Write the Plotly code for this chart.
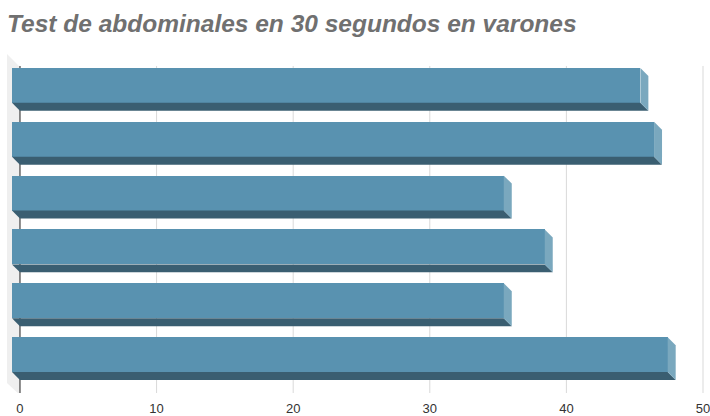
import plotly.graph_objects as go

# Sit-up counts in 30 seconds, one value per participant (top to bottom)
participants = ["1", "2", "3", "4", "5", "6"]
situps = [46, 47, 36, 39, 36, 48]
tick_values = [0, 10, 20, 30, 40, 50]
tick_labels = ["0", "10", "20", "30", "40", "50"]

TITLE = "Test de abdominales en 30 segundos en varones"

# Colours of the three visible faces of each block
FRONT = "rgb(89,146,176)"
BOTTOM = "rgb(58,94,113)"
SIDE = "rgb(122,168,190)"

W, H = 710, 416
# pixel geometry of the plot frame
PX_LEFT, PX_RIGHT = 6, 710
PX_TOP, PX_BOTTOM = 53, 394
PX_X0, PX_PER_UNIT = 20, 13.7          # where 0 sits and scale on the back wall
PX_ROW0, PX_ROW = 85.5, 54             # centre of first row and row pitch
DEPTH_PX = 8                            # extrusion depth in pixels

def px_to_x(px):
    return (px - PX_X0) / PX_PER_UNIT

def px_to_y(py):
    return (py - PX_ROW0) / PX_ROW

dx = DEPTH_PX / PX_PER_UNIT
dy = DEPTH_PX / PX_ROW
bar_w = 35 / PX_ROW

ypos = list(range(len(participants)))

fig = go.Figure()

# bottom and right faces of each block, built from the values
for i, v in zip(ypos, situps):
    yt, yb = i - bar_w / 2, i + bar_w / 2
    fig.add_trace(go.Scatter(
        x=[-dx, v - dx, v, 0, -dx],
        y=[yb, yb, yb + dy, yb + dy, yb],
        mode="lines", fill="toself", fillcolor=BOTTOM,
        line=dict(width=0), hoverinfo="skip", showlegend=False))
    fig.add_trace(go.Scatter(
        x=[v - dx, v, v, v - dx, v - dx],
        y=[yt, yt + dy, yb + dy, yb, yt],
        mode="lines", fill="toself", fillcolor=SIDE,
        line=dict(width=0), hoverinfo="skip", showlegend=False))

# front faces
fig.add_trace(go.Bar(
    y=ypos, x=situps, base=[-dx] * len(situps), orientation="h",
    width=bar_w, marker=dict(color=FRONT, line=dict(width=0)),
    showlegend=False, hovertemplate="%{x}<extra></extra>"))

shapes = []
# left side wall
wall_x = [px_to_x(7), px_to_x(20), px_to_x(20), px_to_x(7)]
wall_y = [px_to_y(54), px_to_y(67), px_to_y(396), px_to_y(384)]
path = "M " + " L ".join(f"{a},{b}" for a, b in zip(wall_x, wall_y)) + " Z"
shapes.append(dict(type="path", path=path, xref="x", yref="y",
                   fillcolor="#efefef", line=dict(width=0), layer="below"))
# gridlines on the back wall
for t in tick_values:
    shapes.append(dict(type="line", xref="x", yref="y", layer="below",
                       x0=t, x1=t, y0=px_to_y(66), y1=px_to_y(395),
                       line=dict(color="#666666" if t == 0 else "#d9d9d9",
                                 width=1.5 if t == 0 else 1)))

fig.update_layout(
    width=W, height=H,
    margin=dict(l=PX_LEFT, r=W - PX_RIGHT, t=PX_TOP, b=H - PX_BOTTOM),
    paper_bgcolor="white", plot_bgcolor="white",
    bargap=0,
    title=dict(text=TITLE, xref="container", yref="container",
               x=7 / W, xanchor="left", y=1 - 23 / H, yanchor="middle",
               font=dict(family="Liberation Sans", size=24.5, color="#707070",
                         weight="bold", style="italic")),
    xaxis=dict(range=[px_to_x(PX_LEFT), px_to_x(PX_RIGHT)],
               tickvals=tick_values, ticktext=tick_labels,
               showgrid=False, zeroline=False, showline=False, ticks="",
               ticklabeloverflow="allow", ticklabelstandoff=6,
               tickfont=dict(family="Liberation Sans", size=13, color="#333333"),
               fixedrange=True),
    yaxis=dict(range=[px_to_y(PX_BOTTOM), px_to_y(PX_TOP)],
               showgrid=False, zeroline=False, showline=False,
               showticklabels=False, ticks="", fixedrange=True),
    shapes=shapes,
)

fig.write_html("out.html")
